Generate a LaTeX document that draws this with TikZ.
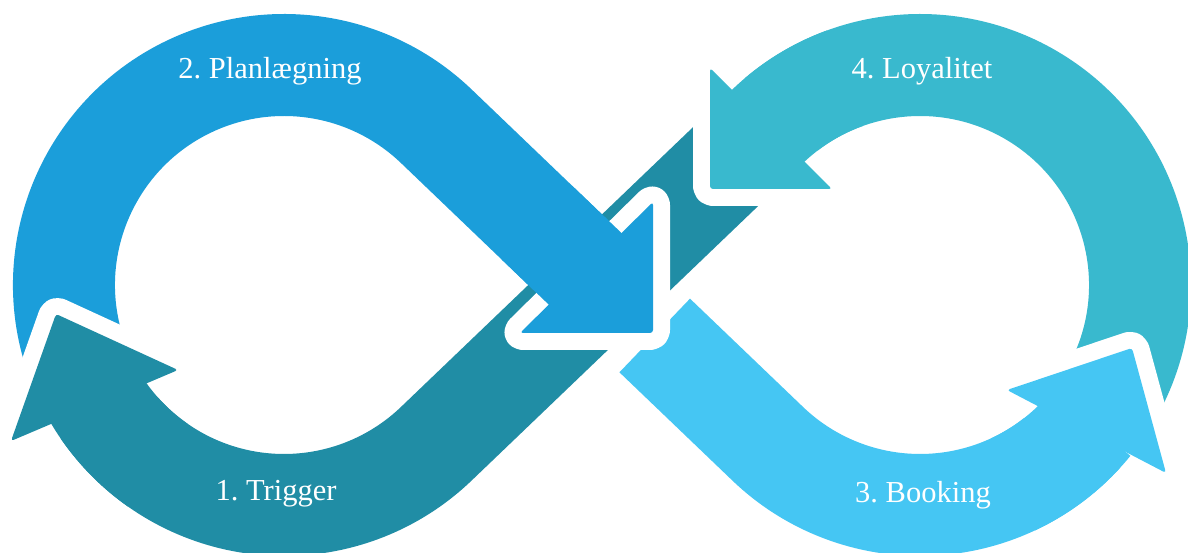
\documentclass[tikz,border=0pt]{standalone}
\usepackage{fontspec}
\setmainfont{Liberation Serif}
\usetikzlibrary{calc}
\definecolor{cTrigger}{RGB}{32,141,165}
\definecolor{cPlan}{RGB}{27,158,218}
\definecolor{cBook}{RGB}{69,198,243}
\definecolor{cLoyal}{RGB}{57,185,206}
\begin{document}
\begin{tikzpicture}[x=1pt,y=1pt,
  band/.style={line width=102pt, line cap=butt},
  headrim/.style={draw=white, fill=white, line width=34pt, line join=round, rounded corners=3pt},
  headfill/.style={rounded corners=3pt},
  lbl/.style={text=white, font=\fontsize{30.5}{32}\selectfont\frenchspacing, anchor=base, inner sep=0pt}]
\useasboundingbox (0,0) rectangle (1188,553);
\fill[white] (0,0) rectangle (1188,553);

% loop centres and the crossing point of the two diagonals
\coordinate (L) at (284,268);
\coordinate (R) at (920,268);
\coordinate (X) at (602,268);

% ---- band bodies (centre line, radius 220, width 102) ----
% 1: from the upper right, through the crossing, round the bottom of the left loop
\draw[band, cTrigger] ($(X)+(43.77:200)$) -- ($(L)+(-46.23:220)$)
  arc[start angle=-46.23, end angle=-149.5, radius=220];
% 4: up the right side and over the top of the right loop
\draw[band, cLoyal] ($(R)+(-30:220)$) arc[start angle=-30, end angle=133.77, radius=220]
  -- ($(X)+(43.77:222)$);
% 3: from the crossing round the bottom of the right loop
\draw[band, cBook] ($(X)+(-43.77:73)$) -- ($(R)+(226.23:220)$)
  arc[start angle=226.23, end angle=321, radius=220];
% 2: up the left side, over the top of the left loop, down to the crossing
\draw[band, cPlan] ($(L)+(201:220)$) arc[start angle=201, end angle=46.23, radius=220]
  -- ($(X)+(-43.77:-20)$);

% ---- arrow heads ----
\coordinate (h1t) at (56,239);   \coordinate (h1a) at (178,183); \coordinate (h1b) at (11,112);
\coordinate (h2t) at (653,220);  \coordinate (h2a) at (653,351); \coordinate (h2b) at (520,220);
\coordinate (h3t) at (1132,205); \coordinate (h3a) at (1007,163); \coordinate (h3b) at (1166,80);
\coordinate (h4t) at (710,364);  \coordinate (h4a) at (710,485); \coordinate (h4b) at (832,364);

% head 1
\path[headrim] (h1t) -- (h1a) -- (h1b) -- cycle;
\draw[band, cTrigger] ($(L)+(-125:220)$) arc[start angle=-125, end angle=-149.5, radius=220];
\fill[headfill, cTrigger] (h1t) -- (h1a) -- (h1b) -- cycle;
% head 2
\path[headrim] (h2t) -- (h2a) -- (h2b) -- cycle;
\draw[band, cPlan] ($(X)+(-43.77:-90)$) -- ($(X)+(-43.77:-20)$);
\fill[headfill, cPlan] (h2t) -- (h2a) -- (h2b) -- cycle;
% head 3
\path[headrim] (h3t) -- (h3a) -- (h3b) -- cycle;
\draw[band, cBook] ($(R)+(295:220)$) arc[start angle=295, end angle=321, radius=220];
\fill[headfill, cBook] (h3t) -- (h3a) -- (h3b) -- cycle;
% head 4
\path[headrim] (h4t) -- (h4a) -- (h4b) -- cycle;
\draw[band, cLoyal] ($(R)+(110:220)$) arc[start angle=110, end angle=133.77, radius=220]
  -- ($(X)+(43.77:222)$);
\fill[headfill, cLoyal] (h4t) -- (h4a) -- (h4b) -- cycle;

% ---- labels ----
\node[lbl] (l1) at (276,52)  {1. Trigger};
\node[lbl] (l2) at (270,474) {2. Planlægning};
\node[lbl] (l3) at (923,50)  {3. Booking};
\node[lbl] (l4) at (922,474) {4. Loyalitet};
\end{tikzpicture}
\end{document}
